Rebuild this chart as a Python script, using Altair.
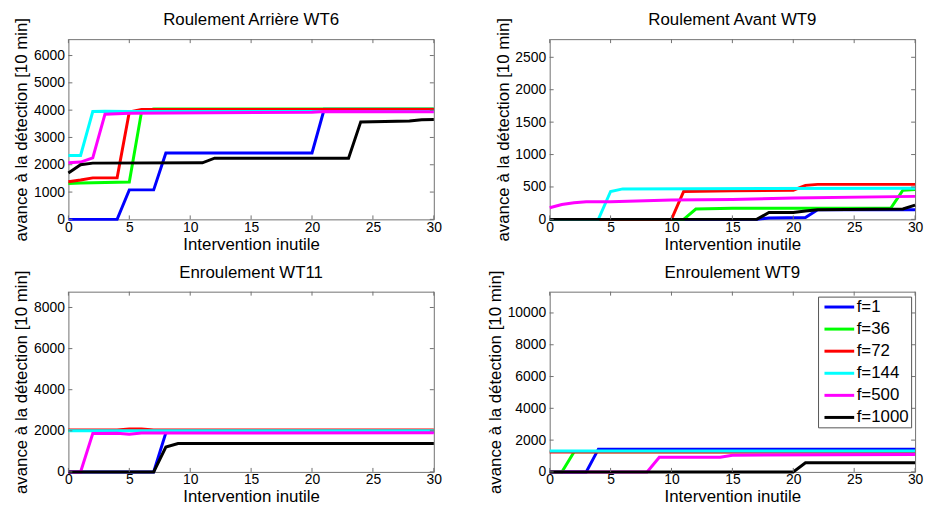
import altair as alt
import pandas as pd

# ---------------- data ----------------
labels = ["f=1", "f=36", "f=72", "f=144", "f=500", "f=1000"]
palette = ["#0000ff", "#00ff00", "#ff0000", "#00ffff", "#ff00ff", "#000000"]

titles = ["Roulement Arrière WT6", "Roulement Avant WT9", "Enroulement WT11", "Enroulement WT9"]
x_title = "Intervention inutile"
y_title = "avance à la détection [10 min]"
x_ticks = [0, 5, 10, 15, 20, 25, 30]

# panel 1 : Roulement Arrière WT6
p1_ymax = 6600
p1_yticks = [0, 1000, 2000, 3000, 4000, 5000, 6000]
p1_f1_x = [0, 4, 5, 7, 8, 20, 21, 30]
p1_f1_y = [0, 0, 1080, 1080, 2430, 2430, 4030, 4030]
p1_f36_x = [0, 1, 5, 6, 7, 30]
p1_f36_y = [1310, 1330, 1370, 3930, 4040, 4040]
p1_f72_x = [0, 1, 2, 4, 5, 6, 30]
p1_f72_y = [1380, 1440, 1520, 1520, 3930, 4020, 4020]
p1_f144_x = [0, 1, 2, 3, 5, 30]
p1_f144_y = [2340, 2340, 3950, 3960, 3950, 3950]
p1_f500_x = [0, 1, 2, 3, 5, 20, 21, 30]
p1_f500_y = [2070, 2100, 2250, 3850, 3890, 3920, 3950, 3940]
p1_f1000_x = [0, 1, 2, 11, 12, 23, 24, 28, 29, 30]
p1_f1000_y = [1700, 2000, 2060, 2070, 2240, 2240, 3570, 3600, 3650, 3660]

# panel 2 : Roulement Avant WT9
p2_ymax = 2780
p2_yticks = [0, 500, 1000, 1500, 2000, 2500]
p2_f1_x = [0, 17, 18, 21, 22, 30]
p2_f1_y = [0, 0, 20, 30, 150, 150]
p2_f36_x = [0, 11, 12, 15, 28, 29, 30]
p2_f36_y = [0, 0, 160, 170, 170, 450, 460]
p2_f72_x = [0, 10, 11, 15, 20, 21, 22, 30]
p2_f72_y = [0, 0, 430, 440, 450, 525, 540, 540]
p2_f144_x = [0, 4, 5, 6, 30]
p2_f144_y = [0, 0, 430, 470, 480]
p2_f500_x = [0, 1, 2, 3, 5, 10, 15, 20, 30]
p2_f500_y = [180, 230, 255, 272, 273, 298, 308, 330, 355]
p2_f1000_x = [0, 17, 18, 20, 21, 22, 29, 30]
p2_f1000_y = [0, 0, 105, 105, 130, 150, 160, 220]

# panel 3 : Enroulement WT11
p3_ymax = 8770
p3_yticks = [0, 2000, 4000, 6000, 8000]
p3_f1_x = [0, 7, 8, 9, 30]
p3_f1_y = [0, 0, 1900, 1950, 1950]
p3_f36_x = [0, 30]
p3_f36_y = [2010, 2010]
p3_f72_x = [0, 4, 5, 6, 7, 30]
p3_f72_y = [2040, 2040, 2090, 2090, 2040, 2040]
p3_f144_x = [0, 30]
p3_f144_y = [2000, 2000]
p3_f500_x = [0, 1, 2, 4, 5, 6, 30]
p3_f500_y = [0, 0, 1870, 1880, 1830, 1890, 1900]
p3_f1000_x = [0, 7, 8, 9, 30]
p3_f1000_y = [0, 0, 1210, 1380, 1380]

# panel 4 : Enroulement WT9
p4_ymax = 11340
p4_yticks = [0, 2000, 4000, 6000, 8000, 10000]
p4_f1_x = [0, 3, 4, 30]
p4_f1_y = [0, 0, 1430, 1430]
p4_f36_x = [0, 1, 2, 30]
p4_f36_y = [0, 0, 1260, 1270]
p4_f72_x = [0, 30]
p4_f72_y = [1250, 1250]
p4_f144_x = [0, 30]
p4_f144_y = [1310, 1310]
p4_f500_x = [0, 8, 9, 14, 15, 30]
p4_f500_y = [0, 0, 920, 920, 1050, 1090]
p4_f1000_x = [0, 20, 21, 30]
p4_f1000_y = [0, 0, 570, 570]

# ---------------- styling ----------------
FONT = "Liberation Sans"
FRAME = "#707070"
W, H = 369, 182


def series_df(xs_list, ys_list):
    rows = []
    for k, (xs, ys) in enumerate(zip(xs_list, ys_list)):
        for x, y in zip(xs, ys):
            rows.append({"x": x, "y": y, "f": labels[k], "k": k})
    return pd.DataFrame(rows)


def make_panel(xs_list, ys_list, title, ymax, yticks, extent):
    df = series_df(xs_list, ys_list)
    xscale = alt.Scale(domain=[0, 30], nice=False, zero=False)
    yscale = alt.Scale(domain=[0, ymax], nice=False, zero=False)
    xaxis = alt.Axis(values=x_ticks, title=x_title, labelPadding=1, titlePadding=2,
                     format="d", labelFlush=False)
    yaxis = alt.Axis(values=yticks, title=y_title, labelPadding=4, titlePadding=3,
                     minExtent=extent, maxExtent=extent, format="d", labelFlush=False)
    X = lambda: alt.X("x:Q", scale=xscale, axis=xaxis)
    Y = lambda: alt.Y("y:Q", scale=yscale, axis=yaxis)

    lines = alt.Chart(df).mark_line(strokeWidth=3, clip=False).encode(
        x=X(), y=Y(),
        color=alt.Color("f:N", sort=labels,
                        scale=alt.Scale(domain=labels, range=palette),
                        legend=alt.Legend(
                            title=None, orient="none", legendX=757, legendY=260,
                            symbolType="M-3,0L3,0", symbolSize=100, symbolStrokeWidth=3,
                            symbolOffset=11,
                            labelFontSize=17, labelFont=FONT, labelColor="black",
                            labelOffset=9, rowPadding=4.3, padding=2,
                            strokeColor="#555555", fillColor="white",
                        )),
        order=alt.Order("x:Q"),
    )
    xt = pd.DataFrame({"x": x_ticks})
    yt = pd.DataFrame({"y": yticks})
    tick_style = dict(color=FRAME, strokeWidth=1)
    xb = alt.Chart(xt).mark_rule(**tick_style).encode(
        x=X(), y=alt.value(H), y2=alt.value(H - 4))
    xtp = alt.Chart(xt).mark_rule(**tick_style).encode(
        x=X(), y=alt.value(0), y2=alt.value(4))
    yl = alt.Chart(yt).mark_rule(**tick_style).encode(
        y=Y(), x=alt.value(0), x2=alt.value(4))
    yr = alt.Chart(yt).mark_rule(**tick_style).encode(
        y=Y(), x=alt.value(W), x2=alt.value(W - 4))
    return alt.layer(lines, xb, xtp, yl, yr).properties(
        width=W, height=H,
        title=alt.TitleParams(title, fontSize=17, font=FONT, fontWeight="normal",
                              color="black", offset=-12, frame="group"),
    )


p1 = make_panel([p1_f1_x, p1_f36_x, p1_f72_x, p1_f144_x, p1_f500_x, p1_f1000_x],
                [p1_f1_y, p1_f36_y, p1_f72_y, p1_f144_y, p1_f500_y, p1_f1000_y],
                titles[0], p1_ymax, p1_yticks, 35)
p2 = make_panel([p2_f1_x, p2_f36_x, p2_f72_x, p2_f144_x, p2_f500_x, p2_f1000_x],
                [p2_f1_y, p2_f36_y, p2_f72_y, p2_f144_y, p2_f500_y, p2_f1000_y],
                titles[1], p2_ymax, p2_yticks, 35)
p3 = make_panel([p3_f1_x, p3_f36_x, p3_f72_x, p3_f144_x, p3_f500_x, p3_f1000_x],
                [p3_f1_y, p3_f36_y, p3_f72_y, p3_f144_y, p3_f500_y, p3_f1000_y],
                titles[2], p3_ymax, p3_yticks, 35)
p4 = make_panel([p4_f1_x, p4_f36_x, p4_f72_x, p4_f144_x, p4_f500_x, p4_f1000_x],
                [p4_f1_y, p4_f36_y, p4_f72_y, p4_f144_y, p4_f500_y, p4_f1000_y],
                titles[3], p4_ymax, p4_yticks, 43)

chart = alt.concat(p1, p2, p3, p4, columns=2, spacing={"row": 73, "column": 117},
                   bounds="flush").properties(
    padding={"left": 4, "top": 0, "right": 0, "bottom": 0},
    background="white",
).configure_view(
    stroke=FRAME, strokeWidth=1,
).configure_axis(
    domain=False, ticks=False, grid=False,
    labelFont=FONT, labelFontSize=14, labelColor="black",
    titleFont=FONT, titleFontSize=17, titleFontWeight="normal", titleColor="black",
)

chart.save("out.html", embed_options={"renderer": "svg", "actions": False})
